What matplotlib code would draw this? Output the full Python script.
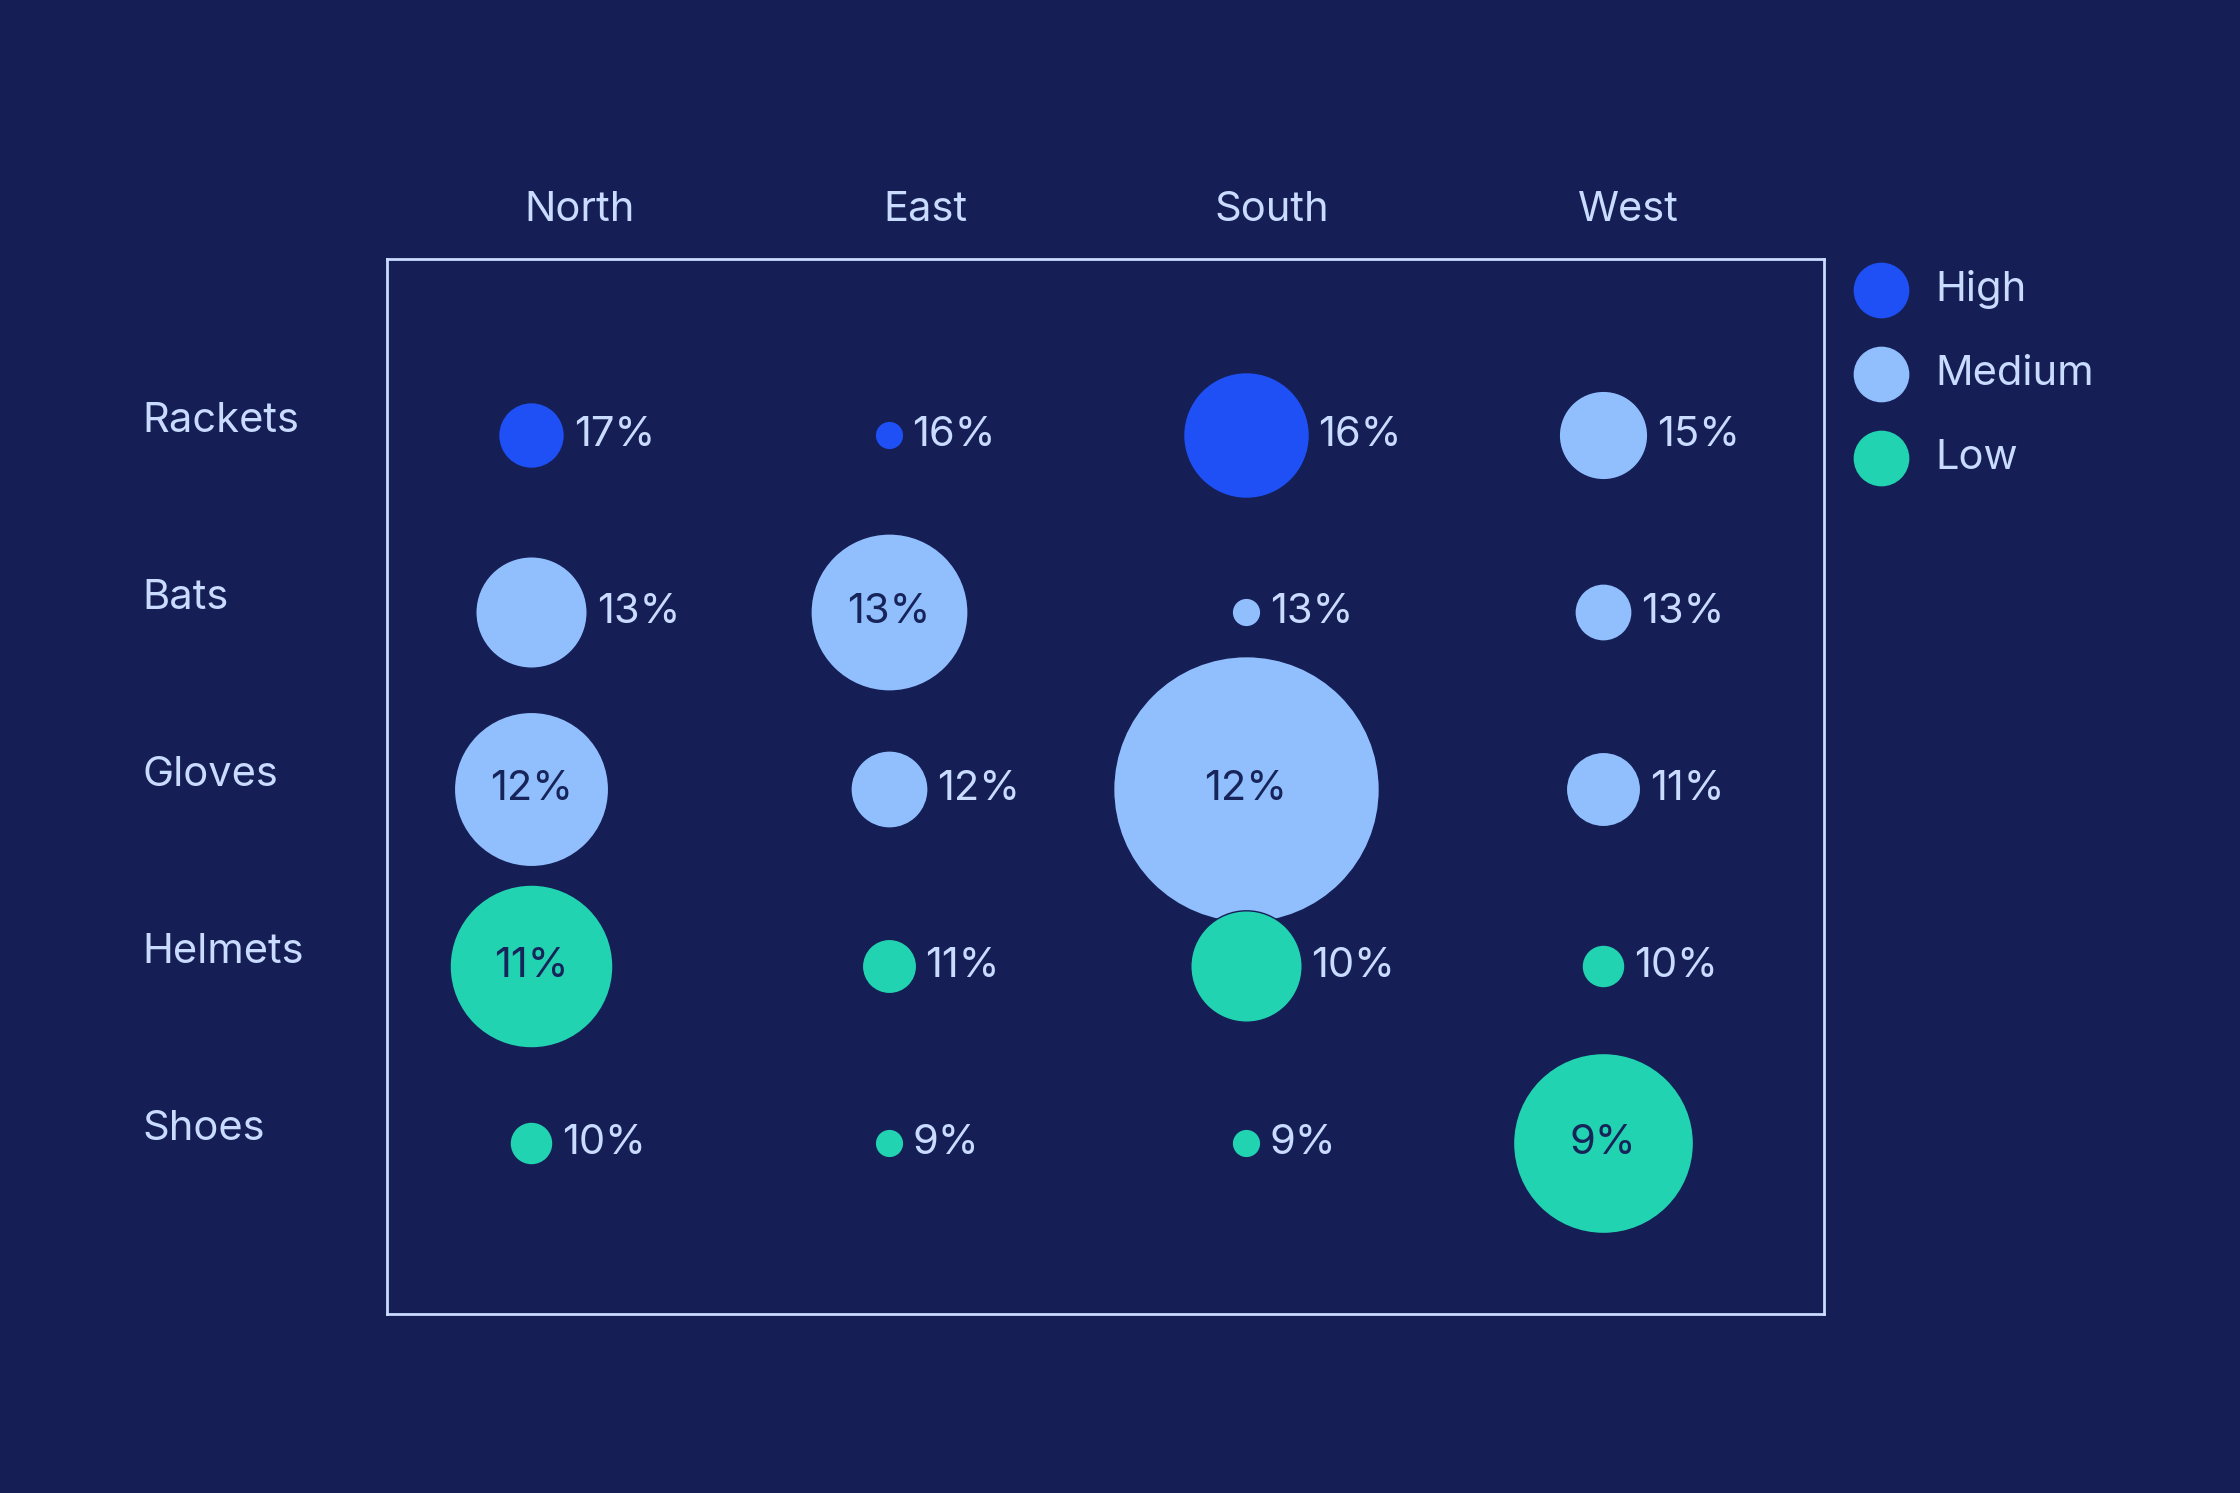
import matplotlib
matplotlib.use("Agg")
import matplotlib.pyplot as plt
import numpy as np

plt.rcParams['font.family'] = ['Inter', 'DejaVu Sans']

regions = ["North", "East", "South", "West"]
products = ["Rackets", "Bats", "Gloves", "Helmets", "Shoes"]
shares = [[17, 16, 16, 15],
          [13, 13, 13, 13],
          [12, 12, 12, 11],
          [11, 11, 10, 10],
          [10, 9, 9, 9]]
volume = [[530, 100, 1940, 960],
          [1520, 3025, 100, 400],
          [2916, 729, 8650, 676],
          [3250, 361, 1520, 225],
          [225, 100, 100, 3970]]
tier = ["High", "Medium", "Low", "Low", "Low"]
tiers = ["High", "Medium", "Low"]
tier_rows = [["High", "High", "High", "Medium"],
             ["Medium", "Medium", "Medium", "Medium"],
             ["Medium", "Medium", "Medium", "Medium"],
             ["Low", "Low", "Low", "Low"],
             ["Low", "Low", "Low", "Low"]]
colors = {"High": "#1E50F5", "Medium": "#91BEFD", "Low": "#22D3B1"}
bg = "#151F56"
fg = "#C9DBFF"
dark = "#172459"

fig = plt.figure(figsize=(22.4, 14.93), dpi=100, facecolor=bg)
ax = fig.add_axes([0.1728, 0.1196, 0.6416, 0.7072])
ax.set_facecolor(bg)
ax.set_xlim(-0.404, 3.62)
ax.set_ylim(4.97, -1.0)
ax.set_xticks([]); ax.set_yticks([])
for s in ax.spines.values():
    s.set_color(fg); s.set_linewidth(2)

scale = 1.4286  # displayed px -> actual px
fs = 30
for i, p in enumerate(products):
    for j, r in enumerate(regions):
        rad_disp = np.sqrt(volume[i][j])
        rad_pt = rad_disp * scale * 0.72
        ax.scatter(j, i, s=(2 * rad_pt) ** 2, color=colors[tier_rows[i][j]],
                   edgecolors=bg, linewidths=1, zorder=3, clip_on=False)
        lab = f"{shares[i][j]}%"
        if rad_disp > 50:
            ax.text(j, i, lab, ha="center", va="center", fontsize=fs, color=dark, zorder=4)
        else:
            ax.annotate(lab, (j, i), xytext=(rad_pt + 7, 0), textcoords="offset points",
                        ha="left", va="center", fontsize=fs, color=fg, zorder=4)

for j, r in enumerate(regions):
    ax.text(j + 0.14 if False else [0.14, 0.105, 0.075, 0.07][j], -1.274, r, fontsize=fs, color=fg,
            ha="center", va="center") if False else None
head_x = [406, 648, 890, 1140]
for j, r in enumerate(regions):
    ax.text((head_x[j] - 372) / 250, -1.274, r, fontsize=fs, color=fg, ha="center", va="center", clip_on=False)
for i, p in enumerate(products):
    ax.text(-1.088, i - 0.08, p, fontsize=fs, color=fg, ha="left", va="center", clip_on=False)

ly = [-0.823, -0.347, 0.129]
for k, t in enumerate(tiers):
    ax.scatter(3.78, ly[k], s=(2 * 19 * scale * 0.72) ** 2, color=colors[t], clip_on=False, zorder=3)
    ax.text(3.932, ly[k], t, fontsize=fs, color=fg, ha="left", va="center", clip_on=False)

fig.savefig("out.png", dpi=100, facecolor=bg)
